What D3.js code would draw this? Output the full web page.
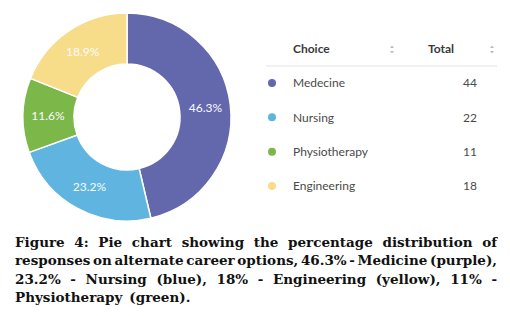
<!DOCTYPE html>
<html><head><meta charset="utf-8">
<script src="https://cdn.jsdelivr.net/npm/d3@7"></script>
<style>body{margin:0;background:#fff;}svg{display:block;}</style>
</head><body>
<svg id="c" width="510" height="316"></svg>
<script>
const categories = ["Medecine", "Nursing", "Physiotherapy", "Engineering"];
const totals = [44, 22, 11, 18];
const pctLabels = ["46.3%", "23.2%", "11.6%", "18.9%"];
const colors = ["#6368ad", "#5fb5e0", "#7bb749", "#f7dc8a"];
const headers = ["Choice", "Total"];
const captionLines = [
  "Figure 4: Pie chart showing the percentage distribution of",
  "responses on alternate career options, 46.3% - Medicine (purple),",
  "23.2% - Nursing (blue), 18% - Engineering (yellow), 11% -",
  "Physiotherapy (green)."
];

const svg = d3.select("#c");
const cx = 127, cy = 117, rOut = 104, rIn = 53;
const pie = d3.pie().sort(null).value(d => d)(totals);
const arc = d3.arc().innerRadius(rIn).outerRadius(rOut);
const labelArc = d3.arc().innerRadius(79).outerRadius(79);
const g = svg.append("g").attr("transform", `translate(${cx},${cy})`);
g.selectAll("path").data(pie).join("path")
  .attr("d", arc).attr("fill", (d,i) => colors[i])
  .attr("stroke", "#fff").attr("stroke-width", 1.5);
g.selectAll("text").data(pie).join("text")
  .attr("transform", d => `translate(${labelArc.centroid(d)})`)
  .attr("text-anchor", "middle").attr("dy", "0.35em")
  .attr("font-family", "Lato, sans-serif").attr("font-size", 12)
  .attr("fill", "#fbfbff").text((d,i) => pctLabels[i]);

// table
const t = svg.append("g").attr("font-family", "Lato, sans-serif");
t.append("text").attr("x", 293).attr("y", 53).attr("font-size", 12).attr("font-weight", 700).attr("fill", "#3a3a3a").text(headers[0]);
t.append("text").attr("x", 454).attr("y", 53).attr("text-anchor", "end").attr("font-size", 12).attr("font-weight", 700).attr("fill", "#3a3a3a").text(headers[1]);
[392, 492].forEach(x => {
  t.append("path").attr("d", `M${x-2},${48} L${x},${45.5} L${x+2},${48} Z M${x-2},${51} L${x},${53.5} L${x+2},${51} Z`).attr("fill", "#bbb");
});
t.append("line").attr("x1", 266).attr("x2", 497).attr("y1", 66).attr("y2", 66).attr("stroke", "#e3e3ea").attr("stroke-width", 1);
const rowY = d3.scalePoint().domain(categories).range([83, 186]);
categories.forEach((c, i) => {
  const y = rowY(c);
  t.append("circle").attr("cx", 272).attr("cy", y).attr("r", 4).attr("fill", colors[i]);
  t.append("text").attr("x", 293).attr("y", y).attr("dy", "0.35em").attr("font-size", 12).attr("fill", "#4a4a4a").text(c);
  t.append("text").attr("x", 477).attr("y", y).attr("dy", "0.35em").attr("text-anchor", "end").attr("font-size", 12).attr("fill", "#4a4a4a").text(totals[i]);
});

// caption, justified
const capG = svg.append("g").attr("font-family", "'DejaVu Serif', serif").attr("font-weight", "bold").attr("font-size", 13.5).attr("fill", "#111");
const x0 = 15, x1 = 497, baselines = [247, 265, 284, 302];
captionLines.forEach((ln, li) => {
  const words = ln.split(" ");
  const nodes = words.map(w => capG.append("text").attr("y", baselines[li]).text(w));
  const widths = nodes.map(n => n.node().getComputedTextLength());
  const total = d3.sum(widths);
  const justify = li < captionLines.length - 1;
  const gap = justify ? (x1 - x0 - total) / (words.length - 1) : 7;
  let x = x0;
  nodes.forEach((n, i) => { n.attr("x", x); x += widths[i] + gap; });
});
</script>
</body></html>
